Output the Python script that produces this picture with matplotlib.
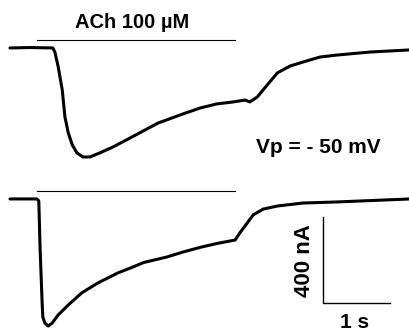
import matplotlib
matplotlib.use("Agg")
import matplotlib.pyplot as plt
import numpy as np

plt.rcParams["font.family"] = ["Liberation Sans", "DejaVu Sans"]

# trace 1 (top): time in s, current in nA (relative to holding level)
t_top = [0.00, 0.30, 0.64, 0.67, 0.72, 0.78, 0.82, 0.87, 0.93, 1.00, 1.09,
         1.19, 1.34, 1.54, 1.79, 2.00, 2.21, 2.58, 2.84, 3.09, 3.33, 3.51,
         3.58, 3.69, 3.84, 3.99, 4.18, 4.43, 4.63, 4.88, 5.37, 5.97]
i_top = [0, 2, 0, -19, -88, -195, -321, -395, -451, -488, -507,
         -507, -488, -460, -419, -384, -349, -307, -279, -260, -251, -242,
         -251, -228, -172, -116, -84, -60, -42, -33, -19, -9]

# trace 2 (bottom)
t_bot = [0.00, 0.40, 0.43, 0.45, 0.48, 0.49, 0.52, 0.57, 0.63, 0.72, 0.87,
         1.07, 1.31, 1.61, 1.84, 1.99, 2.34, 2.58, 2.84, 3.09, 3.36, 3.43,
         3.54, 3.63, 3.78, 3.99, 4.37, 4.88, 5.97]
i_bot = [0, 0, -9, -237, -484, -549, -577, -591, -577, -539, -493,
         -437, -391, -344, -316, -296, -270, -247, -225, -207, -191, -158,
         -112, -74, -47, -33, -19, -14, 0]

ach_on, ach_off = 0.40, 3.36   # s, agonist application
scale_t, scale_i = 1.0, 400    # s, nA

trace_gap = 702    # nA, vertical offset between the two records
bar_lift = 35      # nA, application bar above baseline

fig = plt.figure(figsize=(4.10, 3.31), dpi=100)
ax = fig.add_axes([0, 0, 1, 1])
ax.set_xlim(-0.149, 5.970)
ax.set_ylim(-1316, 223)
ax.axis("off")

kw = dict(color="black", lw=2.2, solid_joinstyle="round", solid_capstyle="round")
ax.plot(t_top, i_top, **kw)
ax.plot(t_bot, np.array(i_bot) - trace_gap, **kw)

for base in (0, -trace_gap):
    ax.plot([ach_on, ach_off], [base + bar_lift] * 2, color="black", lw=0.8)

ax.text(1.83, 93, "ACh 100 \u00b5M", ha="center", va="baseline",
        fontsize=14.5, fontweight="bold")
ax.text(4.60, -488, "Vp = - 50 mV", ha="center", va="baseline", fontsize=15,
        fontweight="bold")

# scale bar
x0, y0 = 4.67, -1188
ax.plot([x0, x0, x0 + scale_t], [y0 + scale_i, y0, y0], color="black", lw=1.0)
ax.text(4.39, y0 + scale_i / 2, "400 nA", rotation=90, ha="center",
        va="center", fontsize=16, fontweight="bold")
ax.text(5.15, -1302, "1 s", ha="center", va="baseline", fontsize=15,
        fontweight="bold")

fig.savefig("out.png", dpi=100)
